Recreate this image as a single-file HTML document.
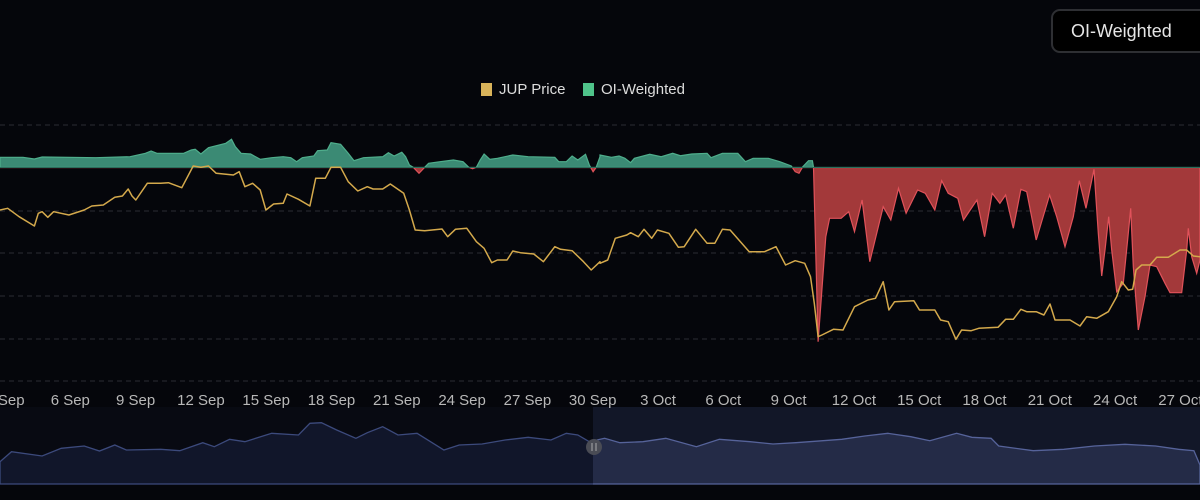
<!DOCTYPE html>
<html><head><meta charset="utf-8">
<style>
html,body{margin:0;padding:0;background:#05060b;width:1200px;height:500px;overflow:hidden;font-family:"Liberation Sans Narrow","Liberation Sans",sans-serif;}
svg{position:absolute;left:0;top:0}
svg text{font-family:"Liberation Sans Narrow","Liberation Sans",sans-serif;}
.btn{position:absolute;left:1051px;top:9px;width:160px;height:44px;box-sizing:border-box;border:2px solid #2e2f33;border-radius:9px;background:#000;color:#e6e6e6;font-size:18px;line-height:40px;padding-left:18px;}
</style></head><body>
<svg id="s" width="1200" height="500" xmlns="http://www.w3.org/2000/svg">
<g stroke="#2a2c33" stroke-width="1" stroke-dasharray="5,4">
<line x1="0" y1="125" x2="1200" y2="125"/>
<line x1="0" y1="211" x2="1200" y2="211"/>
<line x1="0" y1="253" x2="1200" y2="253"/>
<line x1="0" y1="296" x2="1200" y2="296"/>
<line x1="0" y1="339" x2="1200" y2="339"/>
<line x1="0" y1="381" x2="1200" y2="381"/>
</g>
<rect x="481" y="83" width="11" height="13" fill="#d9b35a"/>
<text x="499" y="94" fill="#dcdcdc" font-size="15">JUP Price</text>
<rect x="583" y="83" width="11" height="13" fill="#4fc38a"/>
<text x="601" y="94" fill="#dcdcdc" font-size="15">OI-Weighted</text>
<defs>
<clipPath id="up"><rect x="0" y="0" width="1200" height="167.5"/></clipPath>
<clipPath id="dn"><rect x="0" y="167.5" width="1200" height="300"/></clipPath>
</defs>
<g id="plot"></g>
<g id="nav"></g>
<g id="lab" fill="#b8b8b8" font-size="15" text-anchor="middle"></g>
</svg>
<div class="btn">OI-Weighted</div>
<script>
var k=600/1568;
function z1(a){return a.map(p=>[p[0]*k,110+p[1]/3]);}
function z2(a){return a.map(p=>[600+p[0]*k,110+p[1]/3]);}
function z4(a){return a.map(p=>[1050+p[0]/3,150+p[1]/3]);}
var price=z1([[0,300],[20,295],[50,320],[90,348],[100,310],[110,305],[125,322],[140,305],[180,315],[220,300],[240,288],[270,285],[300,262],[320,258],[335,237],[345,258],[355,270],[385,220],[420,220],[440,218],[475,233],[505,168],[525,172],[545,168],[565,190],[610,195],[625,185],[640,230],[660,220],[680,240],[695,300],[715,282],[740,280],[750,252],[780,268],[810,288],[825,205],[850,205],[865,172],[890,172],[910,215],[935,243],[960,230],[975,237],[1000,237],[1020,222],[1055,250],[1070,300],[1085,360],[1110,362],[1155,357],[1170,380],[1190,358],[1220,355],[1245,395],[1265,415],[1285,458],[1300,450],[1325,450],[1340,423],[1360,428],[1395,432],[1420,455],[1450,410],[1465,418],[1495,422],[1525,455],[1545,480],[1568,455]])
.concat(z2([[0,460],[20,450],[40,385],[70,375],[80,368],[100,380],[115,358],[135,385],[150,360],[180,370],[205,412],[220,410],[250,358],[280,400],[300,400],[320,358],[340,360],[390,425],[430,425],[460,410],[485,465],[510,452],[535,460],[550,500],[560,580],[570,680],[580,675],[610,658],[635,660],[665,590],[700,570],[720,565],[740,515],[755,600],[770,575],[820,572],[835,600],[875,600],[890,630],[910,635],[930,688],[945,660],[970,662],[990,655],[1040,652],[1060,628],[1080,628],[1100,598],[1115,605],[1140,605],[1160,615]]))
.concat(z4([[0,462],[15,510],[60,510],[90,528],[110,500],[140,505],[175,485],[200,440],[215,395],[235,420],[248,418],[258,360],[275,345],[300,345],[320,322],[355,322],[390,300],[410,300],[430,318],[450,320]]));
var oi=z1([[0,142],[60,142],[90,147],[110,141],[250,143],[340,140],[380,130],[395,123],[410,130],[480,130],[500,120],[510,118],[525,132],[545,113],[590,100],[605,88],[615,110],[630,130],[655,132],[680,148],[710,143],[740,140],[760,143],[775,155],[790,143],[820,138],[830,122],[855,120],[865,98],[890,103],[910,130],[925,152],[950,143],[1000,140],[1015,128],[1030,138],[1050,127],[1060,140],[1070,165],[1080,172],[1095,190],[1110,172],[1120,160],[1150,155],[1185,150],[1210,155],[1225,172],[1235,176],[1245,172],[1255,150],[1265,132],[1280,148],[1300,145],[1340,135],[1380,140],[1450,142],[1460,155],[1480,155],[1495,138],[1510,150],[1530,133],[1540,165],[1550,185],[1558,172],[1568,140]])
.concat(z2([[0,135],[30,142],[50,138],[65,145],[80,158],[90,145],[130,133],[160,140],[190,130],[210,137],[240,132],[280,130],[290,143],[320,130],[360,130],[380,155],[400,145],[440,145],[470,155],[500,168],[510,185],[520,190],[530,170],[545,152],[555,152],[558,172],[570,695],[590,380],[600,325],[630,325],[650,305],[665,365],[685,270],[705,455],[740,290],[760,330],[780,235],[800,310],[830,240],[850,250],[875,300],[893,212],[910,250],[935,265],[950,330],[985,270],[1005,380],[1025,250],[1045,280],[1060,255],[1080,355],[1100,238],[1115,245],[1140,390],[1175,255]]))
.concat(z4([[20,200],[45,290],[70,200],[88,92],[108,175],[132,58],[145,250],[155,378],[165,300],[176,200],[185,300],[200,425],[220,400],[235,250],[242,175],[250,350],[265,540],[285,440],[300,345],[320,350],[345,400],[360,428],[395,428],[410,300],[415,235],[425,320],[440,370],[450,330]]));
function pts(a){return a.map(p=>p[0].toFixed(1)+','+p[1].toFixed(1)).join(' ');}
var area='M0,167.5 L'+pts(oi).replace(/ /g,' L')+' L1200,167.5 Z';
var g=document.getElementById('plot');
g.innerHTML=
'<path d="'+area+'" fill="#3b8a74" stroke="#4fae8c" stroke-width="1.2" clip-path="url(#up)"/>'+
'<path d="'+area+'" fill="#a3393a" stroke="#e0525a" stroke-width="1.2" clip-path="url(#dn)"/>'+
'<line x1="0" y1="167.5" x2="1200" y2="167.5" stroke="#2b6e5c" stroke-width="1"/>'+
'<polyline points="'+pts(price)+'" fill="none" stroke="#d4a94c" stroke-width="1.5" stroke-linejoin="round"/>';
var nv=[[0,245],[15,215],[55,228],[80,205],[110,198],[130,213],[150,195],[165,210],[210,208],[235,212],[265,188],[280,200],[300,178],[320,185],[355,160],[390,165],[405,130],[420,128],[440,150],[465,175],[480,158],[500,140],[520,165],[545,160],[580,210],[600,195],[630,192],[660,180],[690,172],[720,180],[740,160],[755,165],[770,185],[790,175],[810,188],[840,185],[870,175],[910,200],[940,178],[980,185],[1010,192],[1040,188],[1100,178],[1130,168],[1160,160],[1190,170],[1215,182],[1250,160],[1270,172],[1295,175],[1305,198],[1350,212],[1390,208],[1430,198],[1470,193],[1510,198],[1540,208],[1560,212],[1568,255]].map(p=>[p[0]*1200/1568,380+p[1]/3]);
var na='M0,484 L'+pts(nv).replace(/ /g,' L')+' L1200,484 Z';
document.getElementById('nav').innerHTML=
'<rect x="0" y="407" width="1200" height="77" fill="#080a12"/>'+
'<rect x="593" y="407" width="607" height="77" fill="#121728"/>'+
'<defs><clipPath id="l"><rect x="0" y="400" width="593" height="90"/></clipPath><clipPath id="r"><rect x="593" y="400" width="607" height="90"/></clipPath></defs>'+
'<path d="'+na+'" fill="#11162a" stroke="#3c4a7c" stroke-width="1.3" clip-path="url(#l)"/>'+
'<path d="'+na+'" fill="#242b47" stroke="#56639a" stroke-width="1.3" clip-path="url(#r)"/>'+
'<circle cx="594" cy="447" r="8" fill="#4a4c55"/>'+
'<line x1="592" y1="443" x2="592" y2="451" stroke="#aaa" stroke-width="1"/><line x1="596" y1="443" x2="596" y2="451" stroke="#aaa" stroke-width="1"/>';
var labs=['3 Sep','6 Sep','9 Sep','12 Sep','15 Sep','18 Sep','21 Sep','24 Sep','27 Sep','30 Sep','3 Oct','6 Oct','9 Oct','12 Oct','15 Oct','18 Oct','21 Oct','24 Oct','27 Oct'];
var s='';labs.forEach((t,i)=>{s+='<text x="'+(5+i*65.3).toFixed(1)+'" y="405">'+t+'</text>';});
document.getElementById('lab').innerHTML=s;
</script>
</body></html>
